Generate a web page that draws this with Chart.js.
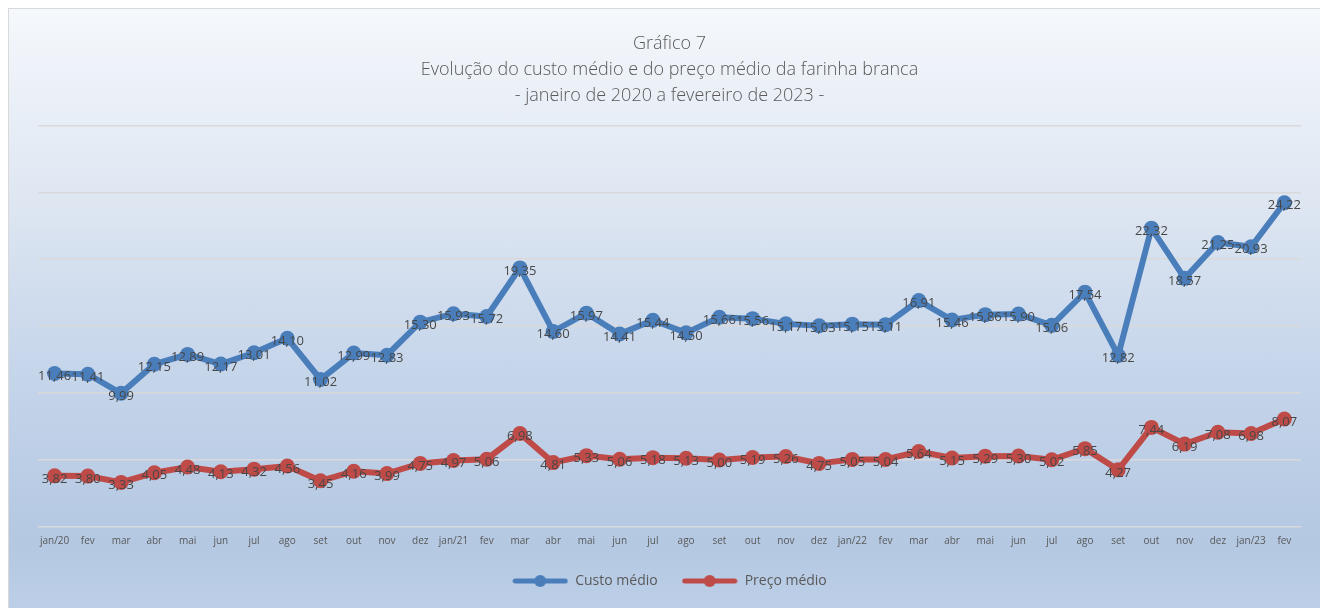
<!DOCTYPE html>
<html>
<head>
<meta charset="utf-8">
<script src="https://cdn.jsdelivr.net/npm/chart.js@4"></script>
<style>
  html, body { margin: 0; padding: 0; background: #ffffff; overflow: hidden; }
  #box {
    position: absolute; left: 8px; top: 8px;
    width: 1326px; height: 608px;
    border-left: 1px solid #d9d9d9; border-top: 1px solid #d9d9d9;
    background: linear-gradient(to bottom, #f5f8fc 0%, #dfe7f2 30%, #c5d5ea 60%, #b4c8e2 88%, #bed0e8 100%);
  }
  #chart { display: block; }
</style>
</head>
<body>
<div id="box"><canvas id="chart" width="1326" height="608"></canvas></div>
<script>
// meses (eixo x)
const labels = ["jan/20","fev","mar","abr","mai","jun","jul","ago","set","out","nov","dez",
  "jan/21","fev","mar","abr","mai","jun","jul","ago","set","out","nov","dez",
  "jan/22","fev","mar","abr","mai","jun","jul","ago","set","out","nov","dez",
  "jan/23","fev"];

const custoMedio = [11.46, 11.41, 9.99, 12.15, 12.89, 12.17, 13.01, 14.10, 11.02, 12.99, 12.83, 15.30,
  15.93, 15.72, 19.35, 14.60, 15.97, 14.41, 15.44, 14.50, 15.66, 15.56, 15.17, 15.03,
  15.15, 15.11, 16.91, 15.46, 15.86, 15.90, 15.06, 17.54, 12.82, 22.32, 18.57, 21.25,
  20.93, 24.22];

const precoMedio = [3.82, 3.80, 3.33, 4.05, 4.48, 4.13, 4.32, 4.56, 3.45, 4.16, 3.99, 4.75,
  4.97, 5.06, 6.98, 4.81, 5.33, 5.06, 5.18, 5.13, 5.00, 5.19, 5.26, 4.75,
  5.05, 5.04, 5.64, 5.15, 5.29, 5.30, 5.02, 5.85, 4.27, 7.44, 6.19, 7.08,
  6.98, 8.07];

const tituloLinhas = ["Gráfico 7",
  "Evolução do custo médio e do preço médio da farinha branca",
  "- janeiro de 2020 a fevereiro de 2023 -"];

const AZUL = "#4a7ebb";
const VERMELHO = "#be4b48";
const FONTE = "'Open Sans', 'DejaVu Sans', sans-serif";

// marcador da legenda: linha com ponto
function legendMarker(color) {
  const c = document.createElement("canvas");
  c.width = 56; c.height = 14;
  const ctx = c.getContext("2d");
  ctx.strokeStyle = color;
  ctx.lineWidth = 5;
  ctx.lineCap = "round";
  ctx.beginPath();
  ctx.moveTo(3, 7);
  ctx.lineTo(53, 7);
  ctx.stroke();
  ctx.fillStyle = color;
  ctx.beginPath();
  ctx.arc(28, 7, 6, 0, Math.PI * 2);
  ctx.fill();
  return c;
}

// rótulos de dados com vírgula decimal
const rotulos = {
  id: "rotulos",
  afterLayout: function(chart) {
    // sobe um pouco a legenda
    chart.legend.top -= 5;
    chart.legend.bottom -= 5;
  },
  afterDatasetsDraw: function(chart) {
    const ctx = chart.ctx;
    ctx.save();
    ctx.font = "13px " + FONTE;
    ctx.fillStyle = "#474747";
    ctx.textAlign = "center";
    ctx.textBaseline = "middle";
    chart.data.datasets.forEach(function(ds, i) {
      const meta = chart.getDatasetMeta(i);
      meta.data.forEach(function(pt, j) {
        const txt = ds.data[j].toFixed(2).replace(".", ",");
        ctx.fillText(txt, pt.x, pt.y + 3);
      });
    });
    ctx.restore();
  }
};

new Chart(document.getElementById("chart"), {
  type: "line",
  data: {
    labels: labels,
    datasets: [
      {
        label: "Custo médio",
        data: custoMedio,
        borderColor: AZUL,
        backgroundColor: AZUL,
        borderWidth: 6,
        pointRadius: 7.5,
        pointBorderWidth: 0,
        tension: 0,
        fill: false
      },
      {
        label: "Preço médio",
        data: precoMedio,
        borderColor: VERMELHO,
        backgroundColor: VERMELHO,
        borderWidth: 6,
        pointRadius: 7.5,
        pointBorderWidth: 0,
        tension: 0,
        fill: false
      }
    ]
  },
  options: {
    responsive: false,
    animation: false,
    layout: { padding: { left: 29, right: 34, top: 0, bottom: 14 } },
    plugins: {
      title: {
        display: true,
        text: tituloLinhas,
        color: "#595959",
        font: { family: FONTE, size: 18, weight: "300", lineHeight: 1.45 },
        padding: { top: 22, bottom: 16 }
      },
      legend: {
        display: true,
        position: "bottom",
        labels: {
          color: "#595959",
          font: { family: FONTE, size: 14 },
          usePointStyle: true,
          pointStyleWidth: 56,
          boxHeight: 14,
          padding: 24,
          generateLabels: function(chart) {
            return chart.data.datasets.map(function(ds, i) {
              return {
                text: ds.label,
                fontColor: "#595959",
                pointStyle: legendMarker(ds.borderColor),
                datasetIndex: i,
                lineWidth: 0
              };
            });
          }
        }
      },
      tooltip: { enabled: false }
    },
    scales: {
      x: {
        offset: true,
        grid: { display: false, drawTicks: false, offset: true },
        border: { display: false },
        ticks: {
          color: "#595959",
          font: { family: FONTE, size: 10 },
          maxRotation: 0,
          autoSkip: false,
          padding: 8
        }
      },
      y: {
        min: 0,
        max: 30,
        grid: { color: "#d9d9d9", lineWidth: 1.5, drawTicks: false },
        border: { display: false },
        ticks: { display: false, stepSize: 5 }
      }
    }
  },
  plugins: [rotulos]
});
</script>
</body>
</html>
